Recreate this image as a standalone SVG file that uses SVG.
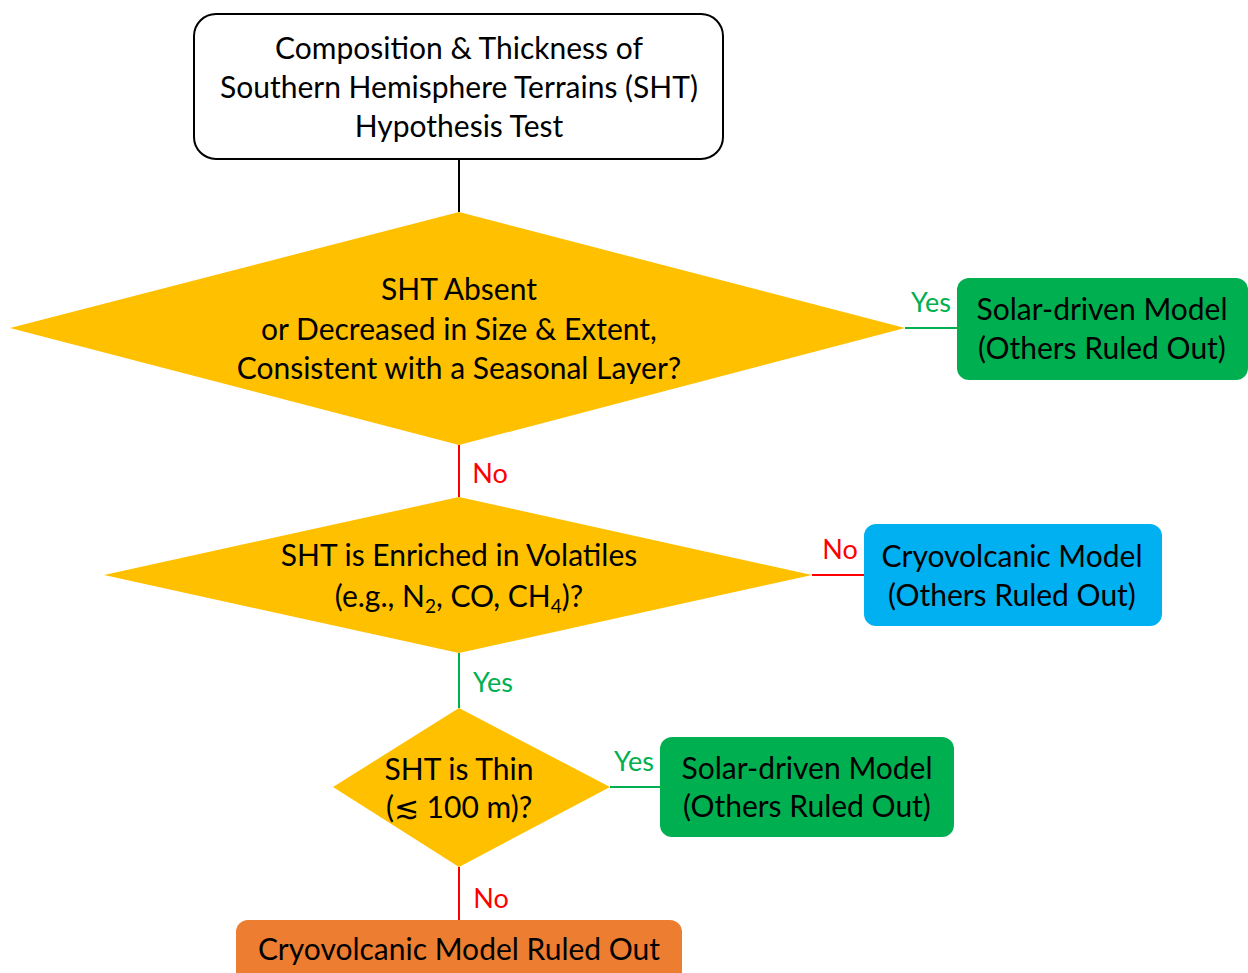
<svg xmlns="http://www.w3.org/2000/svg" width="1248" height="973" viewBox="0 0 1248 973">
<style>
text{font-family:Lato,"Open Sans","Liberation Sans",sans-serif;font-size:30px;fill:#000;text-anchor:middle}
.g{fill:#00B050}
.r{fill:#FF0000}
.lbl{font-size:27px}
.dia{fill:#FFC000}
.ln{stroke-width:2;fill:none}
.sub{font-size:19px}
</style>
<rect width="1248" height="973" fill="#fff"/>
<g id="connectors">
<line class="ln" x1="459" y1="160" x2="459" y2="212" stroke="#000"/>
<line class="ln" x1="905" y1="328" x2="957" y2="328" stroke="#00B050"/>
<line class="ln" x1="459" y1="445" x2="459" y2="497" stroke="#FF0000"/>
<line class="ln" x1="812" y1="575" x2="864" y2="575" stroke="#FF0000"/>
<line class="ln" x1="459" y1="653" x2="459" y2="708" stroke="#00B050"/>
<line class="ln" x1="610" y1="787" x2="660" y2="787" stroke="#00B050"/>
<line class="ln" x1="459" y1="867" x2="459" y2="920" stroke="#FF0000"/>
<text class="g lbl" x="931" y="312">Yes</text>
<text class="r lbl" x="490" y="483">No</text>
<text class="r lbl" x="840" y="559">No</text>
<text class="g lbl" x="493" y="692">Yes</text>
<text class="g lbl" x="634" y="771">Yes</text>
<text class="r lbl" x="491" y="908">No</text>
</g>
<g id="start">
<rect x="194" y="14" width="529" height="145" rx="22" fill="#fff" stroke="#000" stroke-width="2"/>
<text x="459" y="59">Composition &amp; Thickness of</text>
<text x="459" y="98">Southern Hemisphere Terrains (SHT)</text>
<text x="459" y="137">Hypothesis Test</text>
</g>
<g id="decision1">
<polygon class="dia" points="459,212 905,328 459,445 10,328"/>
<text x="459" y="300">SHT Absent</text>
<text x="459" y="340">or Decreased in Size &amp; Extent,</text>
<text x="459" y="379">Consistent with a Seasonal Layer?</text>
</g>
<g id="solar1">
<rect x="957" y="278" width="291" height="102" rx="12" fill="#00B050"/>
<text x="1102" y="320">Solar-driven Model</text>
<text x="1102" y="359">(Others Ruled Out)</text>
</g>
<g id="decision2">
<polygon class="dia" points="459,497 812,575 459,653 104,575"/>
<text x="459" y="566">SHT is Enriched in Volatiles</text>
<text x="459" y="607">(e.g., N<tspan class="sub" dy="6">2</tspan><tspan dy="-6">, CO, CH</tspan><tspan class="sub" dy="6">4</tspan><tspan dy="-6">)?</tspan></text>
</g>
<g id="cryo">
<rect x="864" y="524" width="298" height="102" rx="12" fill="#00B0F0"/>
<text x="1012" y="567">Cryovolcanic Model</text>
<text x="1012" y="606">(Others Ruled Out)</text>
</g>
<g id="decision3">
<polygon class="dia" points="459,708 610,787 459,867 333,787"/>
<text x="459" y="780">SHT is Thin</text>
<text x="459" y="818">(≲ 100 m)?</text>
</g>
<g id="solar2">
<rect x="660" y="737" width="294" height="100" rx="12" fill="#00B050"/>
<text x="807" y="779">Solar-driven Model</text>
<text x="807" y="817">(Others Ruled Out)</text>
</g>
<g id="ruledout">
<rect x="236" y="920" width="446" height="70" rx="12" fill="#ED7D31"/>
<text x="459" y="960">Cryovolcanic Model Ruled Out</text>
</g>
</svg>
